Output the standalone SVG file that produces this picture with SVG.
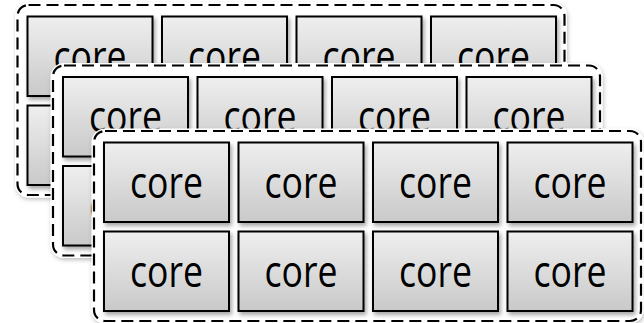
<svg xmlns="http://www.w3.org/2000/svg" width="644" height="323" viewBox="0 0 644 323">
<style>
.frame-halo{fill:#ffffff;stroke:#ffffff;stroke-width:5}
.frame{fill:none;stroke:#000000;stroke-width:2.2;stroke-dasharray:12 6}
.box{fill:url(#g);stroke:#000000;stroke-width:2;filter:url(#sh)}
.lbl{font-family:"Open Sans","Liberation Sans",sans-serif;font-size:44px;fill:#000000;text-anchor:middle}
</style>
<defs>
<linearGradient id="g" x1="0" y1="0" x2="0" y2="1">
<stop offset="0" stop-color="#efefef"/>
<stop offset="1" stop-color="#c9c9c9"/>
</linearGradient>
<filter id="sh" x="-10%" y="-10%" width="125%" height="130%">
<feDropShadow dx="2" dy="3" stdDeviation="2" flood-color="#000000" flood-opacity="0.35"/>
</filter>
<filter id="fsh" x="-5%" y="-5%" width="110%" height="115%">
<feDropShadow dx="1" dy="2" stdDeviation="2" flood-color="#000000" flood-opacity="0.25"/>
</filter>
</defs>

<g id="layer1" transform="translate(17.5,5)">
<rect class="frame-halo" x="0" y="0" width="547" height="190" rx="11" filter="url(#fsh)"/>
<rect class="frame" x="0" y="0" width="547" height="190" rx="11"/>
<g id="l1-core1"><rect class="box" x="10" y="11.5" width="125" height="79.5"/><text class="lbl" x="72.5" y="66.5" textLength="73" lengthAdjust="spacingAndGlyphs">core</text></g>
<g id="l1-core2"><rect class="box" x="144.5" y="11.5" width="125" height="79.5"/><text class="lbl" x="207" y="66.5" textLength="73" lengthAdjust="spacingAndGlyphs">core</text></g>
<g id="l1-core3"><rect class="box" x="279" y="11.5" width="125" height="79.5"/><text class="lbl" x="341.5" y="66.5" textLength="73" lengthAdjust="spacingAndGlyphs">core</text></g>
<g id="l1-core4"><rect class="box" x="413.5" y="11.5" width="125" height="79.5"/><text class="lbl" x="476" y="66.5" textLength="73" lengthAdjust="spacingAndGlyphs">core</text></g>
<g id="l1-core5"><rect class="box" x="10" y="100.5" width="125" height="79.5"/><text class="lbl" x="72.5" y="155.5" textLength="73" lengthAdjust="spacingAndGlyphs">core</text></g>
<g id="l1-core6"><rect class="box" x="144.5" y="100.5" width="125" height="79.5"/><text class="lbl" x="207" y="155.5" textLength="73" lengthAdjust="spacingAndGlyphs">core</text></g>
<g id="l1-core7"><rect class="box" x="279" y="100.5" width="125" height="79.5"/><text class="lbl" x="341.5" y="155.5" textLength="73" lengthAdjust="spacingAndGlyphs">core</text></g>
<g id="l1-core8"><rect class="box" x="413.5" y="100.5" width="125" height="79.5"/><text class="lbl" x="476" y="155.5" textLength="73" lengthAdjust="spacingAndGlyphs">core</text></g>
</g>

<g id="layer2" transform="translate(53,65.5)">
<rect class="frame-halo" x="0" y="0" width="547" height="190" rx="11" filter="url(#fsh)"/>
<rect class="frame" x="0" y="0" width="547" height="190" rx="11"/>
<g id="l2-core1"><rect class="box" x="10" y="11.5" width="125" height="79.5"/><text class="lbl" x="72.5" y="66.5" textLength="73" lengthAdjust="spacingAndGlyphs">core</text></g>
<g id="l2-core2"><rect class="box" x="144.5" y="11.5" width="125" height="79.5"/><text class="lbl" x="207" y="66.5" textLength="73" lengthAdjust="spacingAndGlyphs">core</text></g>
<g id="l2-core3"><rect class="box" x="279" y="11.5" width="125" height="79.5"/><text class="lbl" x="341.5" y="66.5" textLength="73" lengthAdjust="spacingAndGlyphs">core</text></g>
<g id="l2-core4"><rect class="box" x="413.5" y="11.5" width="125" height="79.5"/><text class="lbl" x="476" y="66.5" textLength="73" lengthAdjust="spacingAndGlyphs">core</text></g>
<g id="l2-core5"><rect class="box" x="10" y="100.5" width="125" height="79.5"/><text class="lbl" x="72.5" y="155.5" textLength="73" lengthAdjust="spacingAndGlyphs">core</text></g>
<g id="l2-core6"><rect class="box" x="144.5" y="100.5" width="125" height="79.5"/><text class="lbl" x="207" y="155.5" textLength="73" lengthAdjust="spacingAndGlyphs">core</text></g>
<g id="l2-core7"><rect class="box" x="279" y="100.5" width="125" height="79.5"/><text class="lbl" x="341.5" y="155.5" textLength="73" lengthAdjust="spacingAndGlyphs">core</text></g>
<g id="l2-core8"><rect class="box" x="413.5" y="100.5" width="125" height="79.5"/><text class="lbl" x="476" y="155.5" textLength="73" lengthAdjust="spacingAndGlyphs">core</text></g>
</g>

<g id="layer3" transform="translate(94,131)">
<rect class="frame-halo" x="0" y="0" width="547" height="190" rx="11" filter="url(#fsh)"/>
<rect class="frame" x="0" y="0" width="547" height="190" rx="11"/>
<g id="l3-core1"><rect class="box" x="10" y="11.5" width="125" height="79.5"/><text class="lbl" x="72.5" y="66.5" textLength="73" lengthAdjust="spacingAndGlyphs">core</text></g>
<g id="l3-core2"><rect class="box" x="144.5" y="11.5" width="125" height="79.5"/><text class="lbl" x="207" y="66.5" textLength="73" lengthAdjust="spacingAndGlyphs">core</text></g>
<g id="l3-core3"><rect class="box" x="279" y="11.5" width="125" height="79.5"/><text class="lbl" x="341.5" y="66.5" textLength="73" lengthAdjust="spacingAndGlyphs">core</text></g>
<g id="l3-core4"><rect class="box" x="413.5" y="11.5" width="125" height="79.5"/><text class="lbl" x="476" y="66.5" textLength="73" lengthAdjust="spacingAndGlyphs">core</text></g>
<g id="l3-core5"><rect class="box" x="10" y="100.5" width="125" height="79.5"/><text class="lbl" x="72.5" y="155.5" textLength="73" lengthAdjust="spacingAndGlyphs">core</text></g>
<g id="l3-core6"><rect class="box" x="144.5" y="100.5" width="125" height="79.5"/><text class="lbl" x="207" y="155.5" textLength="73" lengthAdjust="spacingAndGlyphs">core</text></g>
<g id="l3-core7"><rect class="box" x="279" y="100.5" width="125" height="79.5"/><text class="lbl" x="341.5" y="155.5" textLength="73" lengthAdjust="spacingAndGlyphs">core</text></g>
<g id="l3-core8"><rect class="box" x="413.5" y="100.5" width="125" height="79.5"/><text class="lbl" x="476" y="155.5" textLength="73" lengthAdjust="spacingAndGlyphs">core</text></g>
</g>
</svg>
